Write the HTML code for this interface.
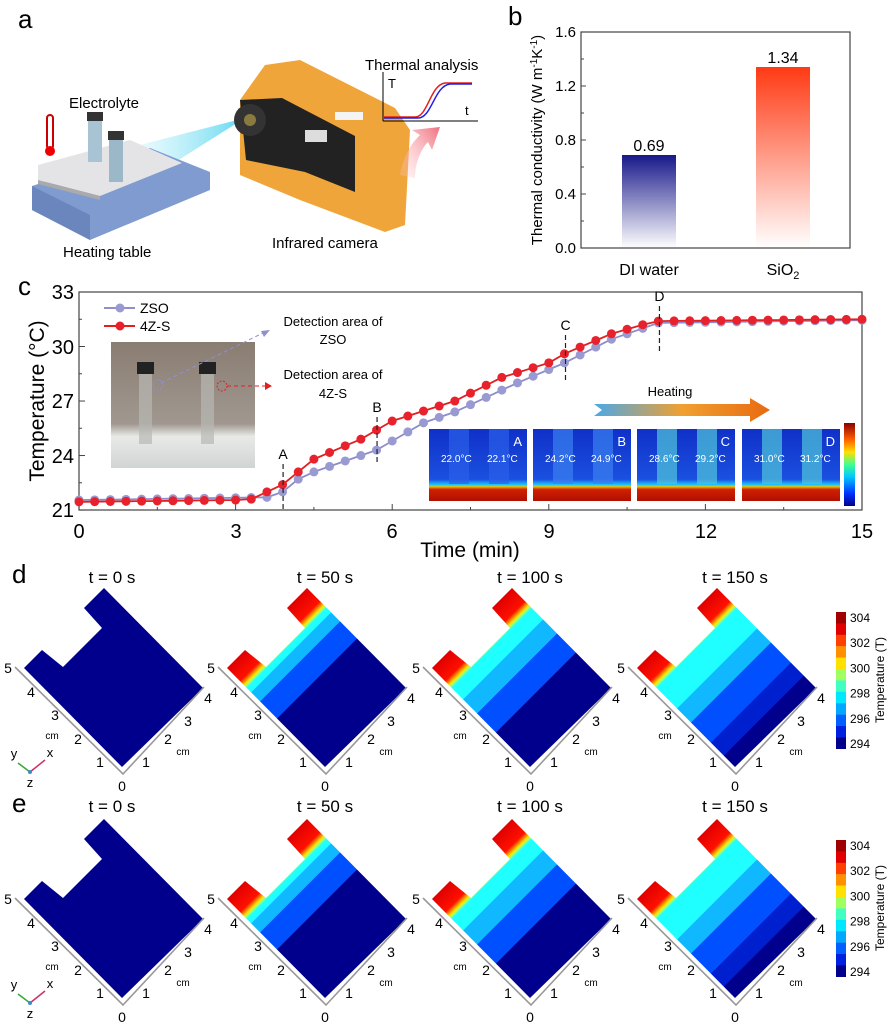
<!DOCTYPE html>
<html><head><meta charset="utf-8">
<style>
html,body{margin:0;padding:0;background:#fff;}
svg{display:block;font-family:"Liberation Sans",Arial,sans-serif;}
</style></head>
<body>
<svg id="s" width="892" height="1024" viewBox="0 0 892 1024" xmlns="http://www.w3.org/2000/svg">
<defs>
  <linearGradient id="gBlue" x1="0" y1="0" x2="0" y2="1"><stop offset="0" stop-color="#18188a"/><stop offset="1" stop-color="#18188a" stop-opacity="0"/></linearGradient>
  <linearGradient id="gRed" x1="0" y1="0" x2="0" y2="1"><stop offset="0" stop-color="#ff3a14"/><stop offset="1" stop-color="#ff3a14" stop-opacity="0"/></linearGradient>
  <linearGradient id="gBeam" x1="1" y1="0" x2="0" y2="0"><stop offset="0" stop-color="#5fd8f0"/><stop offset="1" stop-color="#c9f3fb" stop-opacity="0.2"/></linearGradient>
  <linearGradient id="gHeat" x1="0" y1="0" x2="1" y2="0"><stop offset="0" stop-color="#4aa8e8"/><stop offset="0.5" stop-color="#f0a030"/><stop offset="1" stop-color="#e86a10"/></linearGradient>
  <linearGradient id="gPink" x1="0" y1="1" x2="1" y2="0"><stop offset="0" stop-color="#ffd0d0" stop-opacity="0.2"/><stop offset="1" stop-color="#f07080"/></linearGradient>
  <linearGradient id="gCbar" x1="0" y1="0" x2="0" y2="1"><stop offset="0" stop-color="#8a0000"/><stop offset="0.2" stop-color="#ff6000"/><stop offset="0.35" stop-color="#ffe000"/><stop offset="0.5" stop-color="#40ff90"/><stop offset="0.65" stop-color="#00c8ff"/><stop offset="0.85" stop-color="#0030ff"/><stop offset="1" stop-color="#00008a"/></linearGradient>
  <linearGradient id="gIR" x1="0" y1="0" x2="0" y2="1"><stop offset="0" stop-color="#1030c8"/><stop offset="0.7" stop-color="#1a50e0"/><stop offset="0.78" stop-color="#20d0ff"/><stop offset="0.8" stop-color="#f0c000"/><stop offset="0.84" stop-color="#d02000"/><stop offset="1" stop-color="#b01000"/></linearGradient>
  <linearGradient id="gPhoto" x1="0" y1="0" x2="0" y2="1"><stop offset="0" stop-color="#8a7d72"/><stop offset="0.65" stop-color="#a09890"/><stop offset="0.75" stop-color="#e8eae8"/><stop offset="1" stop-color="#d0d4d2"/></linearGradient>
</defs>

<!-- Panel a -->
<text x="18" y="28" font-size="26">a</text>
<polygon points="245,118 120,150 150,178" fill="url(#gBeam)"/>
<polygon points="32,186 150,148 210,172 210,190 90,240 32,210" fill="#7f9bd0"/>
<polygon points="32,186 90,215 90,240 32,210" fill="#6b86bd"/>
<polygon points="38,165 130,140 182,163 100,196 38,180" fill="#e4e4e6"/>
<polygon points="38,180 100,196 100,200 38,184" fill="#aaa"/>
<rect x="88" y="118" width="14" height="44" fill="#a8c4d4"/><rect x="87" y="112" width="16" height="9" fill="#333"/>
<rect x="109" y="138" width="14" height="44" fill="#9ab8c8"/><rect x="108" y="131" width="16" height="9" fill="#333"/>
<rect x="47" y="115" width="6" height="34" rx="3" fill="none" stroke="#c00" stroke-width="2"/><circle cx="50" cy="151" r="5" fill="#e00"/>
<text x="69" y="108" font-size="15">Electrolyte</text>
<text x="63" y="257" font-size="15">Heating table</text>
<polygon points="240,100 265,65 300,60 395,108 410,130 405,225 385,232 300,200 240,175" fill="#f0a53a"/>
<polygon points="240,100 282,98 355,136 355,192 305,172 246,160" fill="#222"/>
<circle cx="250" cy="120" r="16" fill="#333"/><circle cx="250" cy="120" r="6" fill="#8a7a40"/>
<rect x="305" y="130" width="22" height="12" fill="#ddd"/><rect x="335" y="112" width="28" height="8" fill="#f4f4f4"/>
<text x="272" y="248" font-size="15">Infrared camera</text>
<text x="365" y="70" font-size="15">Thermal analysis</text>
<line x1="383" y1="121" x2="478" y2="121" stroke="#000"/><line x1="383" y1="121" x2="383" y2="72" stroke="#000"/>
<text x="388" y="88" font-size="13">T</text><text x="465" y="115" font-size="13">t</text>
<path d="M384,117 L415,117 C428,117 430,85 445,83 L472,83" fill="none" stroke="#e02020" stroke-width="1.5"/>
<path d="M384,118 L418,118 C432,118 434,86 450,84 L472,84" fill="none" stroke="#2020e0" stroke-width="1.5"/>
<path d="M400,175 C405,150 415,140 420,135 L412,130 L440,127 L432,150 L428,142 C420,150 415,165 415,178 Z" fill="url(#gPink)"/>

<!-- Panel b -->
<text x="508" y="25" font-size="26">b</text>
<rect x="622" y="155" width="54" height="93" fill="url(#gBlue)"/>
<rect x="756" y="67" width="54" height="181" fill="url(#gRed)"/>
<rect x="581" y="32" width="269" height="216" fill="none" stroke="#444" stroke-width="1.2"/>
<g font-size="15" text-anchor="end">
<text x="576" y="253">0.0</text><text x="576" y="199">0.4</text><text x="576" y="145">0.8</text><text x="576" y="91">1.2</text><text x="576" y="37">1.6</text></g>
<g stroke="#444"><line x1="581" x2="586" y1="194" y2="194"/><line x1="581" x2="586" y1="140" y2="140"/><line x1="581" x2="586" y1="86" y2="86"/><line x1="581" x2="584" y1="221" y2="221"/><line x1="581" x2="584" y1="167" y2="167"/><line x1="581" x2="584" y1="113" y2="113"/><line x1="581" x2="584" y1="59" y2="59"/></g>
<text x="649" y="151" font-size="16" text-anchor="middle">0.69</text>
<text x="783" y="63" font-size="16" text-anchor="middle">1.34</text>
<text x="649" y="275" font-size="16" text-anchor="middle">DI water</text>
<text x="783" y="275" font-size="16" text-anchor="middle">SiO<tspan font-size="11" dy="4">2</tspan></text>
<text transform="translate(542,140) rotate(-90)" font-size="15" text-anchor="middle">Thermal conductivity (W m<tspan font-size="10" dy="-5">-1</tspan><tspan dy="5">K</tspan><tspan font-size="10" dy="-5">-1</tspan><tspan dy="5">)</tspan></text>

<!-- Panel c -->
<text x="18" y="295" font-size="26">c</text>
<rect x="111" y="342" width="144" height="126" fill="url(#gPhoto)"/>
<rect x="137" y="362" width="17" height="12" fill="#222"/><rect x="139" y="374" width="13" height="70" fill="#b8b8b4" opacity="0.7"/>
<rect x="199" y="362" width="17" height="12" fill="#222"/><rect x="201" y="374" width="13" height="70" fill="#b8b8b4" opacity="0.7"/>
<g id="ir"></g>
<rect x="844" y="423" width="11" height="83" fill="url(#gCbar)"/>
<polygon points="594,404 750,404 750,398 770,410 750,422 750,416 594,416 602,410" fill="url(#gHeat)"/>
<text x="670" y="396" font-size="13" text-anchor="middle">Heating</text>
<rect x="79" y="292" width="783" height="218" fill="none" stroke="#444" stroke-width="1.2"/>
<g id="cticks" stroke="#444"></g>
<g font-size="20" text-anchor="end"><text x="74" y="299">33</text><text x="74" y="354">30</text><text x="74" y="408">27</text><text x="74" y="463">24</text><text x="74" y="517">21</text></g>
<g font-size="20" text-anchor="middle"><text x="79" y="538">0</text><text x="236" y="538">3</text><text x="392" y="538">6</text><text x="549" y="538">9</text><text x="706" y="538">12</text><text x="862" y="538">15</text></g>
<text x="470" y="557" font-size="21" text-anchor="middle">Time (min)</text>
<text transform="translate(44,401) rotate(-90)" font-size="21" text-anchor="middle">Temperature (°C)</text>
<g id="series"></g>
<line x1="104" x2="135" y1="308" y2="308" stroke="#9090c8" stroke-width="2"/><circle cx="120" cy="308" r="4.5" fill="#9a9ad0"/>
<line x1="104" x2="135" y1="326" y2="326" stroke="#e02020" stroke-width="2"/><circle cx="120" cy="326" r="4.5" fill="#e8202a"/>
<text x="140" y="313" font-size="14">ZSO</text><text x="140" y="331" font-size="14">4Z-S</text>
<g font-size="13" text-anchor="middle"><text x="333" y="326">Detection area of</text><text x="333" y="344">ZSO</text><text x="333" y="379">Detection area of</text><text x="333" y="398">4Z-S</text></g>
<circle cx="158" cy="385" r="5" fill="none" stroke="#9090d0" stroke-dasharray="2,1.5"/>
<line x1="161" y1="383" x2="265" y2="332" stroke="#9090d0" stroke-dasharray="4,3"/><polygon points="270,330 261,331 264,337" fill="#9090d0"/>
<circle cx="222" cy="386" r="5" fill="none" stroke="#e02020" stroke-dasharray="2,1.5"/>
<line x1="227" y1="386" x2="266" y2="386" stroke="#e02020" stroke-dasharray="4,3"/><polygon points="272,386 265,382 265,390" fill="#e02020"/>

<!-- Panels d/e -->
<g id="de"></g>
</svg>
<script>
(function(){
var NS="http://www.w3.org/2000/svg";
function el(p,t,a,txt){var e=document.createElementNS(NS,t);for(var k in a)e.setAttribute(k,a[k]);if(txt!=null)e.textContent=txt;p.appendChild(e);return e;}
var X=function(t){return 79+t*52.2;},Y=function(v){return 292+(33-v)*18.17;};
var ct=document.getElementById('cticks');
for(var t=0;t<=15;t+=1.5){var big=(t%3==0);el(ct,'line',{x1:X(t),x2:X(t),y1:510,y2:big?504:507});}
for(var v=21;v<=33;v+=1.5){var big=(v%3==0);el(ct,'line',{x1:79,x2:big?85:82,y1:Y(v),y2:Y(v)});}
function interp(k,t){for(var i=0;i<k.length-1;i++){if(t<=k[i+1][0]){var a=k[i],b=k[i+1];return a[1]+(b[1]-a[1])*(t-a[0])/(b[0]-a[0]);}}return k[k.length-1][1];}
var red=[[0,21.45],[3,21.55],[3.3,21.6],[3.6,22.0],[3.9,22.4],[4.2,23.1],[4.5,23.8],[5.4,24.9],[6.0,25.9],[7.2,27.0],[8.1,28.3],[9.0,29.1],[9.3,29.6],[10.2,30.7],[10.8,31.2],[11.1,31.4],[15,31.5]];
var zso=[[0,21.55],[3.6,21.7],[3.9,22.0],[4.2,22.7],[4.5,23.1],[5.7,24.3],[6.3,25.3],[6.6,25.8],[7.2,26.4],[8.4,28.0],[9.3,29.1],[10.2,30.4],[10.8,31.0],[11.1,31.3],[15,31.45]];
var g=document.getElementById('series');
function draw(k,lc,fc){var pts=[];for(var i=0;i<=50;i++){var t=i*0.3;pts.push(X(t).toFixed(1)+','+Y(interp(k,t)).toFixed(1));}
el(g,'polyline',{points:pts.join(' '),fill:'none',stroke:lc,'stroke-width':1.8});
for(var i=0;i<=50;i++){var t=i*0.3;el(g,'circle',{cx:X(t),cy:Y(interp(k,t)),r:4.5,fill:fc});}}
draw(zso,'#8c8cc8','#9a9ad2');draw(red,'#e02020','#e8222c');
var mk=[['A',3.91,459],['B',5.71,412],['C',9.32,330],['D',11.12,301]];
mk.forEach(function(m){var x=X(m[1]);el(g,'line',{x1:x,x2:x,y1:m[2]+5,y2:m[2]+50,stroke:'#222','stroke-dasharray':'5,3','stroke-width':1.2});el(g,'text',{x:x,y:m[2],'font-size':14,'text-anchor':'middle'},m[0]);});
var ir=document.getElementById('ir');
var ix=[429,533,637,742],lab=[['A','22.0°C','22.1°C'],['B','24.2°C','24.9°C'],['C','28.6°C','29.2°C'],['D','31.0°C','31.2°C']];
ix.forEach(function(x,i){el(ir,'rect',{x:x,y:429,width:98,height:72,fill:'url(#gIR)'});
var c=i==0?'#2a60e8':i==1?'#3a80f0':'#50c8d8';
el(ir,'rect',{x:x+20,y:429,width:20,height:55,fill:c,opacity:0.7});el(ir,'rect',{x:x+60,y:429,width:20,height:55,fill:c,opacity:0.7});
el(ir,'text',{x:x+93,y:446,'font-size':13,fill:'#fff','text-anchor':'end'},lab[i][0]);
el(ir,'text',{x:x+12,y:462,'font-size':10,fill:'#fff'},lab[i][1]);el(ir,'text',{x:x+58,y:462,'font-size':10,fill:'#fff'},lab[i][2]);});
// d/e
var de=document.getElementById('de');
var shape="24,668 42,650 63,667 102,628 84,608 104,588 203,688 122,767";
var nub=[[0,'#e00000'],[0.13,'#ff1000'],[0.14,'#ff4000'],[0.155,'#ff9000'],[0.17,'#ffe000'],[0.185,'#a0ff70']];
var grads={
 0:[[0,'#00008c'],[1,'#00008c']],
 50:nub.concat([[0.2,'#20ffff'],[0.24,'#20ffff'],[0.245,'#10b8ff'],[0.33,'#10b8ff'],[0.335,'#0050ff'],[0.5,'#0050ff'],[0.505,'#00008c'],[1,'#00008c']]),
 100:nub.concat([[0.2,'#20ffff'],[0.31,'#20ffff'],[0.315,'#10b8ff'],[0.45,'#10b8ff'],[0.455,'#0050ff'],[0.64,'#0050ff'],[0.645,'#00008c'],[1,'#00008c']]),
 150:nub.concat([[0.2,'#20ffff'],[0.4,'#20ffff'],[0.405,'#10b8ff'],[0.54,'#10b8ff'],[0.545,'#0050ff'],[0.74,'#0050ff'],[0.745,'#0020d0'],[0.87,'#0020d0'],[0.875,'#00008c'],[1,'#00008c']])};
var defs=document.querySelector('defs');
var ts=[0,50,100,150],offs=[0,203,408,613],tx=[112,325,530,735];
[[0,583,'d'],[231,812,'e']].forEach(function(row,ri){
 var dy=row[0];
 el(de,'text',{x:12,y:row[1],'font-size':26},row[2]);
 ts.forEach(function(t,i){
  var id='gd'+ri+'_'+t;var lg=el(defs,'linearGradient',{id:id,gradientUnits:'userSpaceOnUse',x1:14,y1:678,x2:114,y2:778});
  grads[t].forEach(function(s){el(lg,'stop',{offset:s[0],'stop-color':s[1]});});
  el(de,'text',{x:tx[i],y:row[1],'font-size':17,'text-anchor':'middle'},'t = '+t+' s');
  var gg=el(de,'g',{transform:'translate('+offs[i]+','+dy+')'});
  el(gg,'polygon',{points:shape,fill:'url(#'+id+')'});
  el(gg,'polyline',{points:"15,667 123,774 204,687",fill:'none',stroke:'#999','stroke-width':1.6});
  var L=[['5',8,673],['4',31,697],['3',55,720],['2',78,744],['1',100,767],['0',122,791],['1',146,767],['2',168,744],['3',188,726],['4',208,703]];
  L.forEach(function(l){el(gg,'text',{x:l[1],y:l[2],'font-size':14,'text-anchor':'middle'},l[0]);});
  el(gg,'text',{x:52,y:739,'font-size':10,'text-anchor':'middle'},'cm');el(gg,'text',{x:183,y:755,'font-size':10,'text-anchor':'middle'},'cm');
  if(i==0){el(gg,'line',{x1:30,y1:772,x2:18,y2:763,stroke:'#3a3','stroke-width':1.5});el(gg,'line',{x1:30,y1:772,x2:45,y2:760,stroke:'#d03060','stroke-width':1.5});el(gg,'circle',{cx:30,cy:772,r:2,fill:'#48c'});
   el(gg,'text',{x:14,y:758,'font-size':13,'text-anchor':'middle'},'y');el(gg,'text',{x:50,y:757,'font-size':13,'text-anchor':'middle'},'x');el(gg,'text',{x:30,y:787,'font-size':13,'text-anchor':'middle'},'z');}
 });
 var cb=el(de,'g',{transform:'translate(0,'+(ri?228:0)+')'});
 var cols=['#a00000','#e00000','#ff4000','#ff9000','#ffe000','#a0ff60','#40ffc0','#00e8ff','#00a8ff','#0060ff','#0020e0','#00008c'];
 cols.forEach(function(c,k){el(cb,'rect',{x:836,y:612+k*11.4,width:10,height:11.6,fill:c});});
 [304,302,300,298,296,294].forEach(function(v,k){el(cb,'text',{x:850,y:622+k*25.2,'font-size':12},v);});
 el(cb,'text',{transform:'translate(884,680) rotate(-90)','font-size':12,'text-anchor':'middle'},'Temperature (T)');
});
})();
</script>
</body></html>
